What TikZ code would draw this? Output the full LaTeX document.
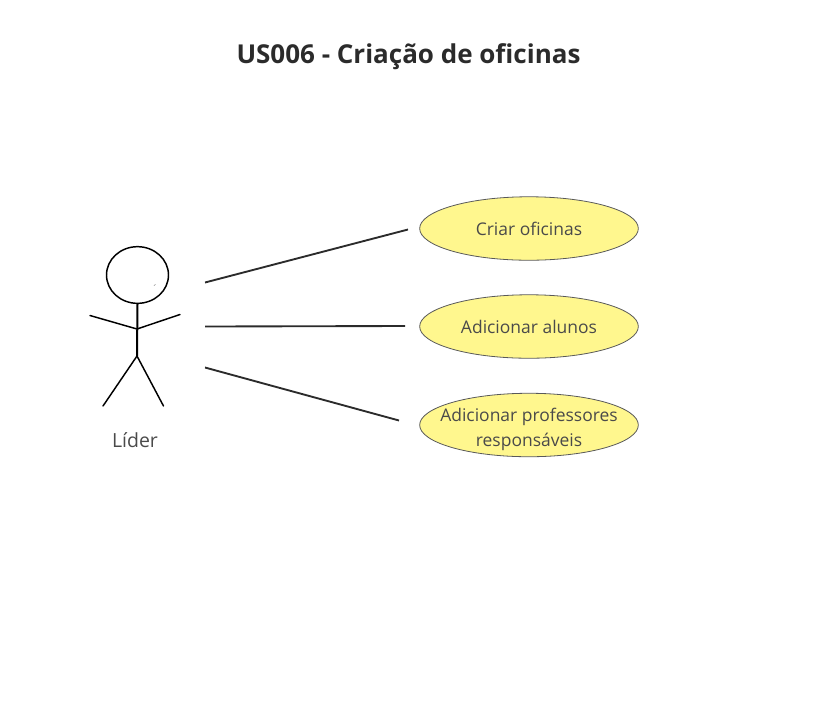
\documentclass[tikz,border=0pt]{standalone}
\usepackage{fontspec}
\setmainfont{Open Sans}
\usetikzlibrary{shapes.geometric}
\definecolor{ink}{HTML}{2B2B2B}
\definecolor{lab}{HTML}{4A4A4A}
\definecolor{ucfill}{HTML}{FFF78E}
\tikzset{x=0.75pt,y=-0.75pt,
  usecase/.style={ellipse,draw=black!65,line width=0.6pt,fill=ucfill,inner sep=0pt,minimum width=164pt,minimum height=47.6pt},
  uclabel/.style={text=lab,font=\fontsize{13.1pt}{18.75pt}\selectfont,align=center,inner sep=0pt},
  link/.style={draw=ink,line width=1.4pt},
  stick/.style={draw=black,line width=1.1pt,line cap=round}}
\begin{document}
\begin{tikzpicture}
\useasboundingbox (0,0) rectangle (835,708);
\node[font=\bfseries\fontsize{19.5pt}{23pt}\selectfont,text=ink] (title) at (408.5,56.5) {US006 - Criação de oficinas};
\node[usecase,label={[uclabel]center:Criar oficinas}] (u1) at (529,228.5) {};
\node[usecase,label={[uclabel]center:Adicionar alunos}] (u2) at (529,326.5) {};
\node[usecase,label={[uclabel,yshift=-3pt]center:Adicionar professores\\responsáveis}] (u3) at (529,425) {};
\node[ellipse,draw=black,line width=1.1pt,minimum width=46.5pt,minimum height=42.5pt,inner sep=0pt] (head) at (137.5,275) {};
\coordinate (neck) at (137,329);
\coordinate (hip) at (137,356);
\coordinate (la) at (90,315.5);
\coordinate (ra) at (180,314.5);
\coordinate (ll) at (103,406);
\coordinate (rl) at (163.5,406);
\coordinate (t1) at (154,285.5);
\coordinate (t2) at (155.5,284.5);
\draw[stick,line width=1.5pt] (head.south) -- (hip);
\draw[stick] (la) -- (neck) -- (ra);
\draw[stick] (ll) -- (hip) -- (rl);
\draw[draw=black!60,line width=0.4pt] (t1) -- (t2);
\node[font=\fontsize{14.6pt}{17pt}\selectfont,text=lab] (actor) at (135,440) {Líder};
\coordinate (a1) at (205,282.5);
\coordinate (a2) at (205,326.5);
\coordinate (a3) at (205,367.5);
\coordinate (b1) at (408,229.5);
\coordinate (b2) at (405,326);
\coordinate (b3) at (399,420.5);
\draw[link] (a1) -- (b1);
\draw[link] (a2) -- (b2);
\draw[link] (a3) -- (b3);
\end{tikzpicture}
\end{document}
